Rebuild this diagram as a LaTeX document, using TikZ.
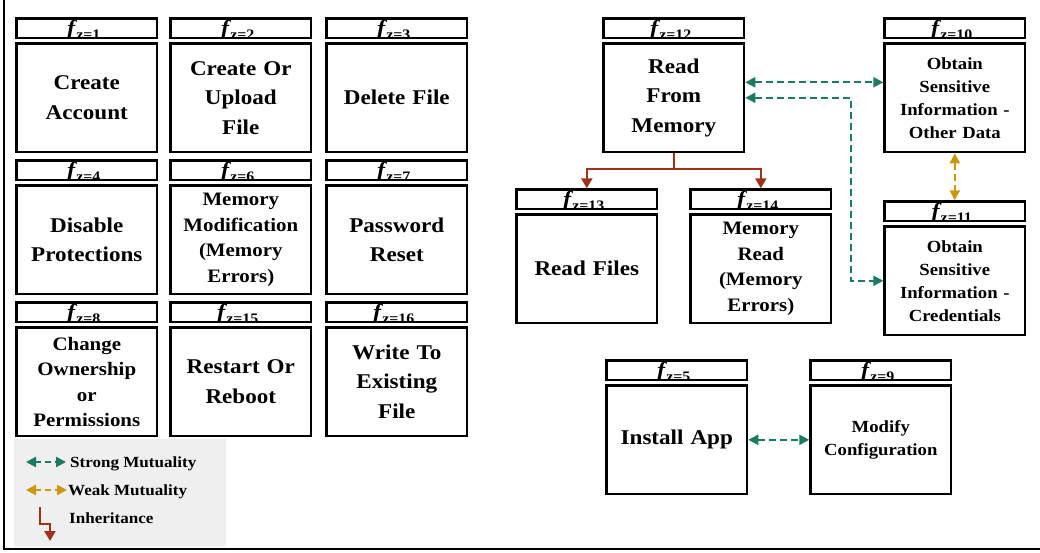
\documentclass[tikz,border=0pt]{standalone}
\usepackage{fontspec}
\setmainfont[FakeStretch=1.1]{Liberation Serif}
\usetikzlibrary{arrows.meta}
\definecolor{strongc}{RGB}{26,122,99}
\definecolor{weakc}{RGB}{204,152,10}
\definecolor{inhc}{RGB}{160,50,26}
\definecolor{legbg}{RGB}{239,239,239}
\newcommand\hlab[1]{{\fontsize{22}{22}\selectfont\bfseries\itshape f}\kern1pt\raisebox{-3.5pt}{\fontsize{14.5}{14.5}\selectfont\bfseries z=#1}}
\newcommand\abox[6]{%
  \node[hdr={#4}] (h#1) at (#2+1.3,#3+1.3) {};
  \node[mbox,#5] (m#1) at (#2+1.3,#3+26.3) {#6};}
\tikzset{
  hdr/.style={draw, line width=2.6pt, minimum width=140.4pt, minimum height=19.4pt,
    anchor=north west, inner sep=0pt,
    path picture={\node[anchor=base, inner sep=0pt, xshift=-3pt] at ([yshift=2.5pt]path picture bounding box.south) {\hlab{#1}};}},
  mbox/.style={draw, line width=2.6pt, minimum width=140.4pt, minimum height=108.4pt,
    anchor=north west, inner sep=0pt, text width=139pt, align=center, font=\bfseries},
  big/.style={font=\fontsize{21}{29.5}\selectfont\bfseries},
  mid/.style={font=\fontsize{19}{25.5}\selectfont\bfseries},
  sml/.style={font=\fontsize{17}{23}\selectfont\bfseries},
  tipa/.tip={Triangle[length=10pt,width=10pt]},
  strong/.style={draw=strongc, line width=2.2pt, dash pattern=on 7pt off 4pt, tipa-tipa},
  weak/.style={draw=weakc, line width=2.2pt, dash pattern=on 7pt off 4pt, tipa-tipa},
  inh/.style={draw=inhc, line width=2.2pt, -{Triangle[length=10pt,width=11pt]}},
  legtxt/.style={anchor=base west, inner sep=0pt, font=\fontsize{15.5}{15.5}\selectfont\bfseries},
}
\begin{document}
\begin{tikzpicture}[x=1pt,y=-1pt]
\useasboundingbox (0,0) rectangle (1040,552);
% legend background
\fill[legbg] (14,439) rectangle (226,547);
% outer frame
\draw[line width=2pt] (4,0) -- (4,549) -- (1040,549);
% left grid
\abox{1}{14}{16}{1}{big}{Create\\Account}
\abox{2}{168}{16}{2}{big}{Create Or\\Upload\\File}
\abox{3}{324}{16}{3}{big}{Delete File}
\abox{4}{14}{158}{4}{big}{Disable\\Protections}
\abox{6}{168}{158}{6}{mid}{Memory\\Modification\\(Memory\\Errors)}
\abox{7}{324}{158}{7}{big}{Password\\Reset}
\abox{8}{14}{300}{8}{mid}{Change\\Ownership\\or\\Permissions}
\abox{15}{168}{300}{15}{big}{Restart Or\\Reboot}
\abox{16}{324}{300}{16}{big}{Write To\\Existing\\File}
% right part
\abox{12}{601}{16}{12}{big}{Read\\From\\Memory}
\abox{10}{882}{16}{10}{sml}{Obtain\\Sensitive\\Information -\\Other Data}
\abox{11}{882}{199}{11}{sml}{Obtain\\Sensitive\\Information -\\Credentials}
\abox{13}{514}{187}{13}{big}{Read Files}
\abox{14}{688}{187}{14}{mid}{Memory\\Read\\(Memory\\Errors)}
\abox{5}{604}{358}{5}{big}{Install App}
\abox{9}{808}{358}{9}{sml}{Modify\\Configuration}
% inheritance tree
\draw[inh] (m12.south) -- ++(0,16) coordinate (j) -| (h13.north);
\draw[inh] (j) -| (h14.north);
% strong mutualities
\draw[strong] ([yshift=15.5pt]m12.east) -- ([yshift=15.5pt]m10.west);
\coordinate (bend) at (851,0);
\draw[strong] (m12.east) -| (bend |- m11.west) -- (m11.west);
\draw[strong] (m5.east) -- (m9.west);
% weak mutuality
\draw[weak] (m10.south) -- (h11.north);
% legend
\coordinate (ls1) at (26,462); \coordinate (ls2) at (66,462);
\draw[strong, dash pattern=on 6pt off 4pt] (ls1) -- (ls2);
\node[legtxt] (lt1) at (70,467) {Strong Mutuality};
\coordinate (lw1) at (26,490); \coordinate (lw2) at (67,490);
\draw[weak, dash pattern=on 6pt off 4pt] (lw1) -- (lw2);
\node[legtxt] (lt2) at (68,495) {Weak Mutuality};
\coordinate (li1) at (40,507); \coordinate (li2) at (50,541);
\draw[inh] (li1) |- (50,524) -- (li2);
\node[legtxt] (lt3) at (69,523) {Inheritance};
\end{tikzpicture}
\end{document}
